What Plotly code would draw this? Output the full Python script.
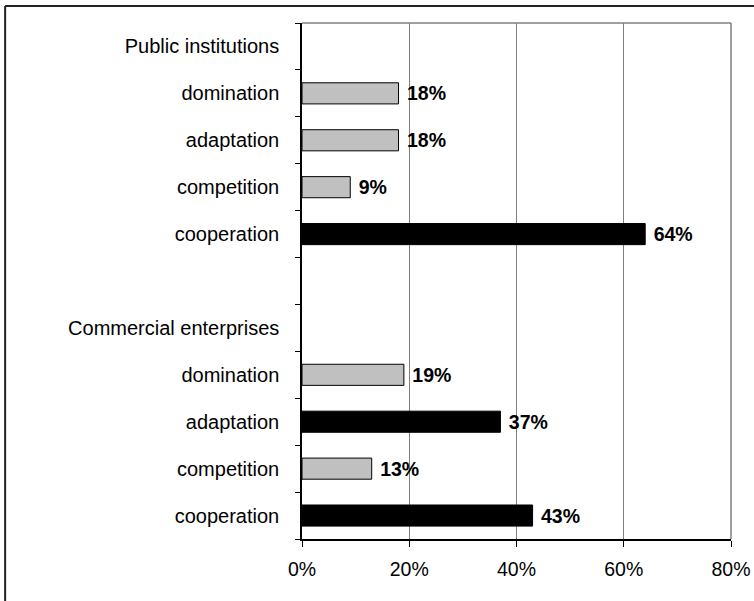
import plotly.graph_objects as go

# Survey shares of interaction strategies, by type of organisation
groups = ["Public institutions", "Commercial enterprises"]
strategies = ["domination", "adaptation", "competition", "cooperation"]
public_vals = [18, 18, 9, 64]
commercial_vals = [19, 37, 13, 43]
# dominant strategies are drawn in black
public_dark = [False, False, False, True]
commercial_dark = [False, True, False, True]
x_ticks = [0, 20, 40, 60, 80]
x_tick_labels = ["0%", "20%", "40%", "60%", "80%"]

# lay the rows out top to bottom: group header, its strategies, then a spacer row
row_labels, ys, vals, dark = [], [], [], []
blocks = [(groups[0], public_vals, public_dark), (groups[1], commercial_vals, commercial_dark)]
pos = 0
for bi, (g, v, d) in enumerate(blocks):
    row_labels.append(g)
    pos += 1
    for s, val, dk in zip(strategies, v, d):
        row_labels.append(s)
        ys.append(pos)
        vals.append(val)
        dark.append(dk)
        pos += 1
    if bi < len(blocks) - 1:
        row_labels.append("")
        pos += 1
n_rows = len(row_labels)

FONT = "Liberation Sans, Arial, sans-serif"
colors = ["#000000" if d else "#C0C0C0" for d in dark]

fig = go.Figure(
    go.Bar(
        x=vals,
        y=ys,
        orientation="h",
        width=0.45,
        marker=dict(color=colors, line=dict(color="#000000", width=1)),
        text=[f" {v}%" for v in vals],
        textposition="outside",
        constraintext="none",
        cliponaxis=False,
        textfont=dict(family=FONT, size=19.5, color="#000000", weight="bold"),
        hoverinfo="skip",
    )
)

fig.update_layout(
    width=754,
    height=601,
    margin=dict(l=302, r=23, t=23, b=62),
    paper_bgcolor="white",
    plot_bgcolor="white",
    showlegend=False,
    bargap=0.55,
    font=dict(family=FONT, size=20, color="#000000"),
)

fig.update_xaxes(
    range=[0, 80],
    tickvals=x_ticks,
    ticktext=x_tick_labels,
    ticks="outside",
    ticklen=6,
    tickcolor="#000000",
    ticklabelstandoff=6,
    showgrid=True,
    gridcolor="#808080",
    gridwidth=1,
    showline=True,
    linecolor="#000000",
    linewidth=1.5,
    zeroline=False,
    automargin=False,
    tickfont=dict(size=19.5),
)

fig.update_yaxes(
    range=[n_rows - 0.5, -0.5],
    tickvals=list(range(n_rows)),
    ticktext=row_labels,
    ticks="",
    ticklabelstandoff=17,
    showgrid=False,
    showline=True,
    linecolor="#000000",
    linewidth=1.5,
    zeroline=False,
    automargin=False,
    minor=dict(
        tickvals=[i - 0.5 for i in range(n_rows + 1)],
        ticks="outside",
        ticklen=5,
        tickcolor="#000000",
        showgrid=False,
    ),
)

# gray frame along the top and right of the plotting area
fig.add_shape(type="line", xref="x domain", yref="y domain", x0=0, x1=1, y0=1, y1=1,
              line=dict(color="#808080", width=1.5))
fig.add_shape(type="line", xref="x domain", yref="y domain", x0=1, x1=1, y0=0, y1=1,
              line=dict(color="#808080", width=1.5))

# outer chart border (top and left edges)
fig.add_shape(type="line", xref="paper", yref="paper", x0=-0.692, x1=1.1, y0=1.033, y1=1.033,
              line=dict(color="#222222", width=2))
fig.add_shape(type="line", xref="paper", yref="paper", x0=-0.692, x1=-0.692, y0=-0.2, y1=1.033,
              line=dict(color="#222222", width=2))

fig.write_html("out.html")
